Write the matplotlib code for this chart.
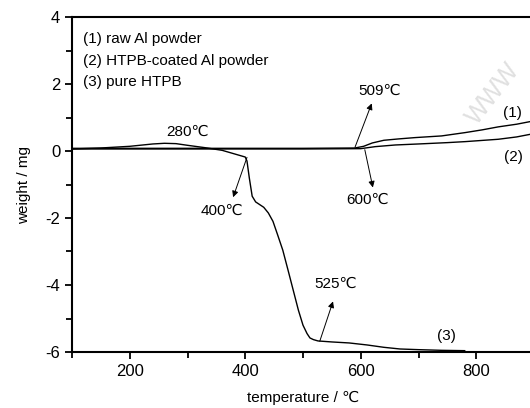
import matplotlib
matplotlib.use("Agg")
import matplotlib.pyplot as plt
from matplotlib.ticker import MultipleLocator

plt.rcParams['font.family'] = ['Liberation Sans Narrow', 'Liberation Sans', 'DejaVu Sans']
plt.rcParams['axes.unicode_minus'] = False

# Curve (1) raw Al powder
T1 = [100, 300, 500, 590, 605, 620, 640, 665, 694, 740, 781, 810, 838, 870, 900]
W1 = [0.08, 0.08, 0.08, 0.09, 0.14, 0.24, 0.32, 0.36, 0.40, 0.45, 0.55, 0.63, 0.72, 0.80, 0.90]
# Curve (2) HTPB-coated Al powder
T2 = [100, 300, 500, 600, 625, 660, 700, 750, 781, 838, 870, 900]
W2 = [0.06, 0.06, 0.06, 0.07, 0.13, 0.18, 0.21, 0.25, 0.28, 0.35, 0.42, 0.52]
# Curve (3) pure HTPB
T3 = [100, 150, 200, 240, 260, 280, 300, 330, 360, 400, 403, 407, 412, 418, 425,
      432, 440, 448, 456, 465, 474, 483, 492, 500, 507, 512, 518, 526, 550, 580,
      611, 640, 668, 700, 740, 780]
W3 = [0.06, 0.09, 0.14, 0.21, 0.23, 0.22, 0.17, 0.10, 0.02, -0.18, -0.30, -0.80,
      -1.35, -1.52, -1.60, -1.68, -1.85, -2.10, -2.50, -2.96, -3.55, -4.15, -4.75,
      -5.20, -5.45, -5.58, -5.63, -5.67, -5.70, -5.73, -5.79, -5.86, -5.91, -5.93,
      -5.95, -5.96]

legend_lines = ["(1) raw Al powder", "(2) HTPB-coated Al powder", "(3) pure HTPB"]

fig = plt.figure(figsize=(5.30, 4.08), dpi=100)
W, H = 530, 408
ax = fig.add_axes([72 / W, 1 - 352 / H, 462 / W, (352 - 17) / H])

for T, Wt in ((T1, W1), (T2, W2), (T3, W3)):
    ax.plot(T, Wt, color='black', lw=1.0)

ax.set_xlim(100, 900)
ax.set_ylim(-6, 4)
ax.xaxis.set_major_locator(MultipleLocator(200))
ax.xaxis.set_minor_locator(MultipleLocator(100))
ax.yaxis.set_major_locator(MultipleLocator(2))
ax.yaxis.set_minor_locator(MultipleLocator(1))
ax.tick_params(which='both', direction='out', width=1.3, labelsize=12)
ax.tick_params(which='major', length=5)
ax.tick_params(which='minor', length=4)
for s in ('left', 'bottom', 'top'):
    ax.spines[s].set_linewidth(1.5)
ax.spines['right'].set_visible(False)

ax.set_xlabel("temperature / ℃", fontsize=11, labelpad=9)
ax.set_ylabel("weight / mg", fontsize=11, labelpad=10)

for i, t in enumerate(legend_lines):
    ax.text(0.024, 0.934 - i * 0.064, t, transform=ax.transAxes,
            fontsize=11, va='center', ha='left')

arrow = dict(arrowstyle='-|>', color='black', lw=0.7, mutation_scale=9,
             shrinkA=0, shrinkB=0)
ax.text(300, 0.56, "280℃", fontsize=11, ha='center', va='center')
ax.annotate("", xy=(619, 1.42), xytext=(590, 0.11), arrowprops=arrow)
ax.text(633, 1.81, "509℃", fontsize=11, ha='center', va='center')
ax.annotate("", xy=(621, -1.09), xytext=(607, 0.04), arrowprops=arrow)
ax.text(612, -1.47, "600℃", fontsize=11, ha='center', va='center')
ax.annotate("", xy=(379, -1.38), xytext=(403, -0.19), arrowprops=arrow)
ax.text(360, -1.8, "400℃", fontsize=11, ha='center', va='center')
ax.annotate("", xy=(552, -4.49), xytext=(529, -5.68), arrowprops=arrow)
ax.text(557, -3.98, "525℃", fontsize=11, ha='center', va='center')
ax.text(862, 1.12, "(1)", fontsize=11, ha='center', va='center')
ax.text(864, -0.19, "(2)", fontsize=11, ha='center', va='center')
ax.text(749, -5.53, "(3)", fontsize=11, ha='center', va='center')
ax.text(830, 1.7, "WWW", fontsize=18, color='#e0e0e0', rotation=52,
        ha='center', va='center', zorder=0)

fig.savefig("out.png", dpi=100)
